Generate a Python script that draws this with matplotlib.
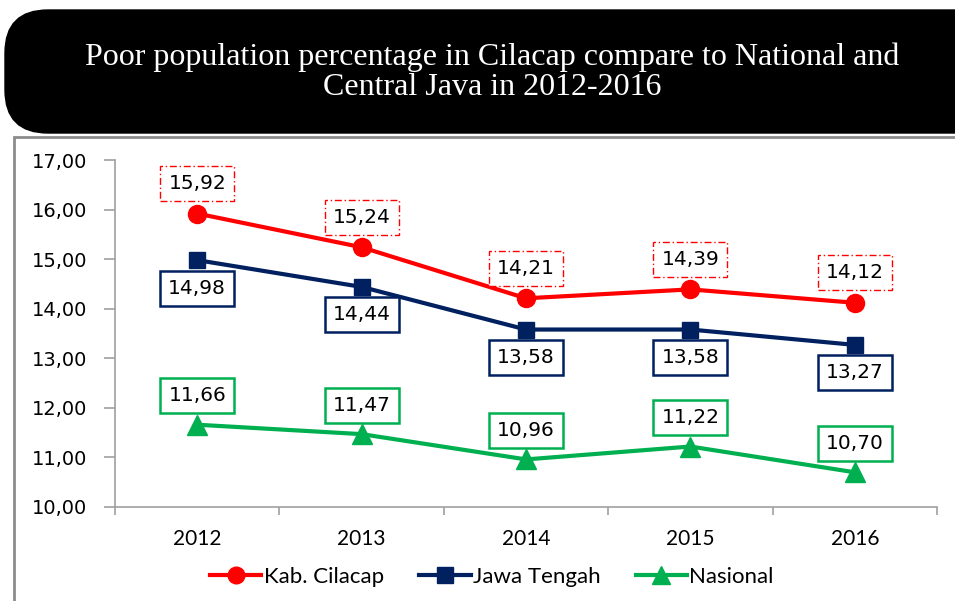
import matplotlib.pyplot as plt
from matplotlib.patches import FancyBboxPatch, Rectangle
from matplotlib.lines import Line2D
import matplotlib.font_manager as fm

# data
years = ["2012", "2013", "2014", "2015", "2016"]
cilacap = [15.92, 15.24, 14.21, 14.39, 14.12]
jateng = [14.98, 14.44, 13.58, 13.58, 13.27]
nasional = [11.66, 11.47, 10.96, 11.22, 10.70]
y_ticks = [10, 11, 12, 13, 14, 15, 16, 17]

RED = "#FF0000"
NAVY = "#002060"
GREEN = "#00B050"
W, H = 955, 601

available = {f.name for f in fm.fontManager.ttflist}
narrow = "Liberation Sans Narrow" if "Liberation Sans Narrow" in available else "Lato"

fig = plt.figure(figsize=(W / 100, H / 100), dpi=100)
fig.patch.set_facecolor("white")

# title box (black, rounded, runs off the right edge)
title_box = FancyBboxPatch((5 / W, 1 - 133 / H), 1.2, 123 / H,
                           boxstyle="round,pad=0,rounding_size=0.045",
                           transform=fig.transFigure, fc="black", ec="black",
                           mutation_aspect=W / H, zorder=0)
fig.patches.append(title_box)
fig.text(492 / W, 1 - 72 / H,
         "Poor population percentage in Cilacap compare to National and\nCentral Java in 2012-2016",
         color="white", ha="center", va="center", fontsize=23,
         family="Liberation Serif", linespacing=1.05)

# chart area border
border = Rectangle((14 / W, -0.1), 1.0, 1 - 137 / H + 0.1, transform=fig.transFigure,
                   fc="none", ec="#8C8C8C", lw=2)
fig.patches.append(border)

ax = fig.add_axes([115 / W, 1 - 507 / H, (937 - 115) / W, (507 - 160) / H])
x = list(range(len(years)))

ax.plot(x, cilacap, color=RED, lw=3, marker="o", ms=13, zorder=3)
ax.plot(x, jateng, color=NAVY, lw=3, marker="s", ms=12, zorder=3)
ax.plot(x, nasional, color=GREEN, lw=3, marker="^", ms=14, zorder=3)

ax.set_xlim(-0.5, len(years) - 0.5)
ax.set_ylim(10, 17)
ax.set_yticks(y_ticks)
ax.set_yticklabels([f"{v:.2f}".replace(".", ",") for v in y_ticks],
                   fontsize=14, family="DejaVu Sans")
ax.set_xticks(x)
ax.set_xticklabels(years, fontsize=15, family=narrow)
ax.set_xticks([i - 0.5 for i in range(len(years) + 1)], minor=True)
ax.tick_params(axis="x", which="major", length=0, pad=16)
ax.tick_params(axis="x", which="minor", length=6, color="#A0A0A0", width=1.2)
ax.tick_params(axis="y", length=8, color="#A0A0A0", width=1.2, pad=12)
for s in ["top", "right"]:
    ax.spines[s].set_visible(False)
for s in ["left", "bottom"]:
    ax.spines[s].set_color("#A0A0A0")
    ax.spines[s].set_linewidth(1.2)
ax.patch.set_alpha(0)


def label(vals, color, dy, ls):
    for xi, v in zip(x, vals):
        ax.annotate(f"{v:.2f}".replace(".", ","), (xi, v), xytext=(0, dy),
                    textcoords="offset pixels", ha="center", va="center",
                    fontsize=14.5, family="DejaVu Sans", zorder=4,
                    bbox=dict(boxstyle="square,pad=0.4", fc="white", ec=color,
                              lw=1.8 if ls == "-" else 1, ls=ls))


label(cilacap, RED, 30, (0, (5, 2, 1, 2)))
label(jateng, NAVY, -28, "-")
label(nasional, GREEN, 29, "-")

handles = [
    Line2D([], [], color=RED, lw=3, marker="o", ms=12),
    Line2D([], [], color=NAVY, lw=3, marker="s", ms=11),
    Line2D([], [], color=GREEN, lw=3, marker="^", ms=13),
]
fig.legend(handles, ["Kab. Cilacap", "Jawa Tengah", "Nasional"],
           loc="center", bbox_to_anchor=(492 / W, 1 - 577 / H), ncol=3,
           frameon=False, prop={"family": narrow, "size": 16},
           handlelength=2.3, handletextpad=0.1, columnspacing=1.6)

fig.savefig("out.png", dpi=100)
